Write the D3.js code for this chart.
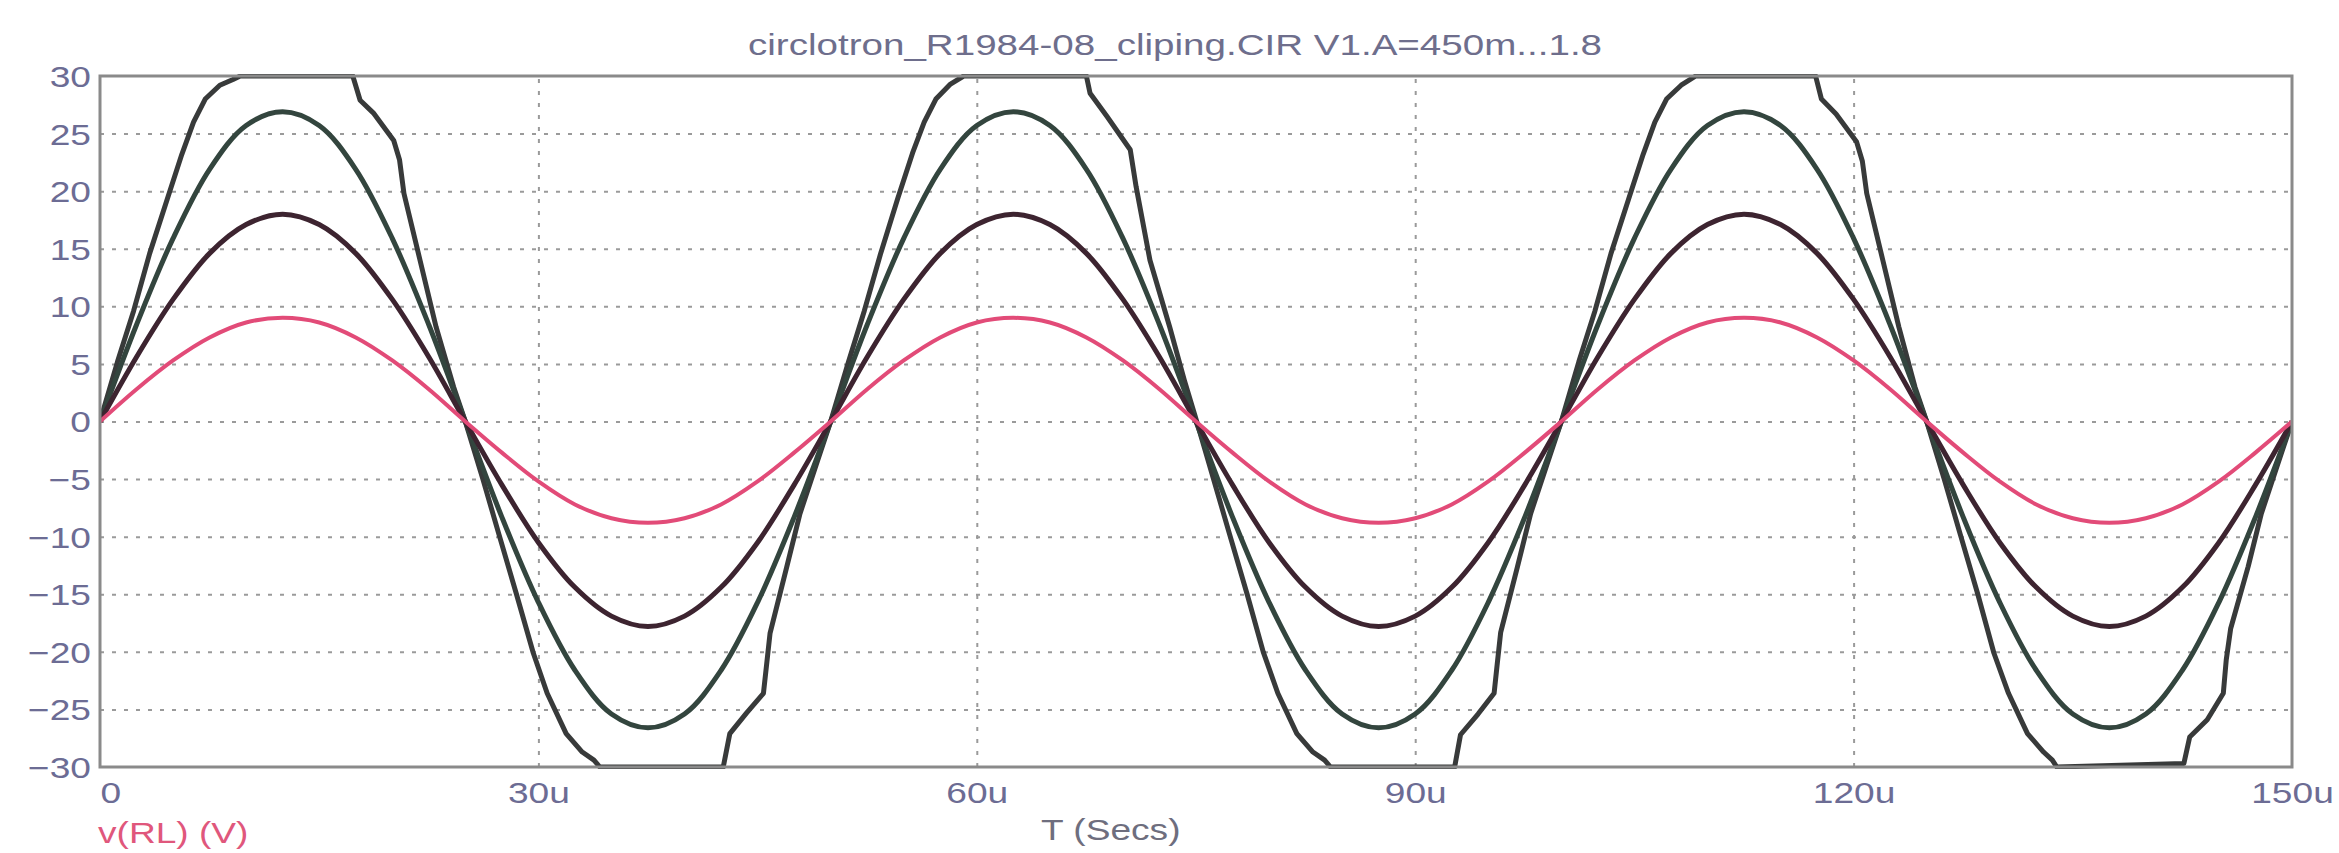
<!DOCTYPE html>
<html>
<head>
<meta charset="utf-8">
<script src="https://cdn.jsdelivr.net/npm/d3@7/dist/d3.min.js"></script>
<style>
  html, body { margin: 0; padding: 0; background: #ffffff; }
  svg { display: block; }
  text { font-family: "Liberation Sans", Arial, sans-serif; }
</style>
</head>
<body>
<svg id="chart" width="2339" height="853"></svg>
<script>
// ---------------- DATA ----------------
const titleText = "circlotron_R1984-08_cliping.CIR V1.A=450m...1.8";
const yAxisName = "v(RL) (V)";
const xAxisName = "T (Secs)";

const yTicks = [-30, -25, -20, -15, -10, -5, 0, 5, 10, 15, 20, 25, 30];
const xTicks = [0, 30, 60, 90, 120, 150];
const xTickLabels = ["0", "30u", "60u", "90u", "120u", "150u"];
const yGrid = [-25, -20, -15, -10, -5, 0, 5, 10, 15, 20, 25];
const xGrid = [30, 60, 90, 120];

// sample times (microseconds) for the three unclipped traces
const sampleT = [0,2.5,5,7.5,10,12.5,15,17.5,20,22.5,25,27.5,30,32.5,35,37.5,40,42.5,45,47.5,
  50,52.5,55,57.5,60,62.5,65,67.5,70,72.5,75,77.5,80,82.5,85,87.5,90,92.5,95,97.5,
  100,102.5,105,107.5,110,112.5,115,117.5,120,122.5,125,127.5,130,132.5,135,137.5,140,142.5,145,147.5,150];

// V1.A = 450m  (pink)
const vPink = [0,2.8,5.3,7.3,8.6,9.0,8.6,7.3,5.3,2.8,0,-2.7,-5.2,-7.2,-8.4,-8.8,-8.4,-7.2,-5.2,-2.7,
  0,2.8,5.3,7.3,8.6,9.0,8.6,7.3,5.3,2.8,0,-2.7,-5.2,-7.2,-8.4,-8.8,-8.4,-7.2,-5.2,-2.7,
  0,2.8,5.3,7.3,8.6,9.0,8.6,7.3,5.3,2.8,0,-2.7,-5.2,-7.2,-8.4,-8.8,-8.4,-7.2,-5.2,-2.7,0];

// V1.A = 900m  (maroon)
const vMaroon = [0,5.6,10.6,14.6,17.1,18.0,17.1,14.6,10.6,5.6,0,-5.5,-10.5,-14.4,-16.9,-17.8,-16.9,-14.4,-10.5,-5.5,
  0,5.6,10.6,14.6,17.1,18.0,17.1,14.6,10.6,5.6,0,-5.5,-10.5,-14.4,-16.9,-17.8,-16.9,-14.4,-10.5,-5.5,
  0,5.6,10.6,14.6,17.1,18.0,17.1,14.6,10.6,5.6,0,-5.5,-10.5,-14.4,-16.9,-17.8,-16.9,-14.4,-10.5,-5.5,0];

// V1.A = 1.35  (dark green-grey)
const vGreen = [0,8.4,15.9,21.9,25.7,26.9,25.7,21.9,15.9,8.4,0,-8.3,-15.7,-21.6,-25.4,-26.6,-25.4,-21.6,-15.7,-8.3,
  0,8.4,15.9,21.9,25.7,26.9,25.7,21.9,15.9,8.4,0,-8.3,-15.7,-21.6,-25.4,-26.6,-25.4,-21.6,-15.7,-8.3,
  0,8.4,15.9,21.9,25.7,26.9,25.7,21.9,15.9,8.4,0,-8.3,-15.7,-21.6,-25.4,-26.6,-25.4,-21.6,-15.7,-8.3,0];

// V1.A = 1.8  (clipped, dark grey) - irregular time points
const clipT = [0,1.2,2.3,3.4,4.6,5.6,6.4,7.2,8.2,9.1,9.6,17.3,17.8,18.7,20.1,20.5,20.8,21.9,23.0,24.2,
  25.0,26.2,27.3,28.5,29.65,30.6,31.9,33.0,33.8,34.2,42.65,43.1,44.25,45.4,45.6,45.85,47.0,47.9,49.0,
  50.0,51.2,52.3,53.4,54.6,55.6,56.4,57.2,58.2,59.1,67.5,67.75,68.9,70.5,70.9,71.85,73.2,74.2,
  75.05,76.2,77.3,78.5,79.6,80.6,81.9,83.0,83.8,84.2,92.7,93.1,94.3,95.4,95.6,95.85,97.0,97.9,99.0,
  100.0,101.2,102.3,103.4,104.6,105.6,106.4,107.2,108.2,109.2,117.4,117.8,118.8,120.2,120.6,120.9,122.0,123.1,124.2,
  125.0,126.2,127.3,128.5,129.6,130.6,131.9,133.0,133.6,133.9,142.6,143.0,144.2,145.3,145.5,145.8,147.0,147.9,149.0,150.0];
const clipV = [0,5.2,9.6,14.6,19.3,23.2,26.0,28.0,29.2,29.7,30,30,27.9,26.8,24.4,22.7,19.8,14.0,8.2,3.0,
  0,-5.0,-9.8,-15.0,-20.1,-23.6,-27.1,-28.7,-29.4,-30,-30,-27.1,-25.3,-23.6,-21.3,-18.4,-12.6,-8.0,-3.8,
  0,5.1,9.6,14.5,19.4,23.3,26.0,28.0,29.3,30,30,28.5,26.5,23.6,20.4,14.0,8.2,3.6,
  0,-5.0,-9.8,-15.0,-20.0,-23.6,-27.1,-28.7,-29.4,-30,-30,-27.2,-25.4,-23.6,-21.2,-18.3,-12.6,-8.0,-3.8,
  0,5.2,9.6,14.6,19.3,23.2,26.0,28.0,29.2,30,30,28.0,26.7,24.3,22.6,19.8,14.0,8.2,3.0,
  0,-5.0,-9.8,-15.0,-20.1,-23.6,-27.1,-28.7,-29.4,-30,-29.7,-27.4,-25.9,-23.6,-20.7,-18.0,-12.6,-8.0,-3.8,0];

// ---------------- LAYOUT ----------------
const L = 100, R = 2292, T = 76, B = 767;
const SX = 1.28;          // horizontal stretch of all lettering
const FS = 29;            // font size
const svg = d3.select("#chart");
svg.append("rect").attr("width", 2339).attr("height", 853).attr("fill", "#ffffff");

const x = d3.scaleLinear().domain([0, 150]).range([L, R]);
const y = d3.scaleLinear().domain([-30, 30]).range([B, T]);

// grid lines
const gridColor = "#9a9a9a";
const gx = svg.append("g").attr("transform", `translate(0,${B})`)
  .call(d3.axisBottom(x).tickValues(xGrid).tickSize(-(B - T)).tickFormat(""));
gx.select(".domain").remove();
gx.selectAll("line").attr("stroke", gridColor).attr("stroke-width", 2).attr("stroke-dasharray", "4,8");

const gy = svg.append("g").attr("transform", `translate(${L},0)`)
  .call(d3.axisLeft(y).tickValues(yGrid).tickSize(-(R - L)).tickFormat(""));
gy.select(".domain").remove();
gy.selectAll("line").attr("stroke", gridColor).attr("stroke-width", 2).attr("stroke-dasharray", "4,8");

// clip path
svg.append("clipPath").attr("id", "plotclip")
  .append("rect").attr("x", L).attr("y", T - 2).attr("width", R - L).attr("height", B - T + 4);

const plot = svg.append("g").attr("clip-path", "url(#plotclip)");

function series(ts, vs) { return ts.map((t, i) => [t, vs[i]]); }

const smoothLine = d3.line().x(d => x(d[0])).y(d => y(d[1])).curve(d3.curveCatmullRom.alpha(0.5));
const rawLine = d3.line().x(d => x(d[0])).y(d => y(d[1])).curve(d3.curveLinear);

plot.append("path").datum(series(clipT, clipV)).attr("d", rawLine)
  .attr("fill", "none").attr("stroke", "#383a3a").attr("stroke-width", 5)
  .attr("stroke-linejoin", "round");
plot.append("path").datum(series(sampleT, vGreen)).attr("d", smoothLine)
  .attr("fill", "none").attr("stroke", "#33453e").attr("stroke-width", 5);
plot.append("path").datum(series(sampleT, vMaroon)).attr("d", smoothLine)
  .attr("fill", "none").attr("stroke", "#3d2430").attr("stroke-width", 5);
plot.append("path").datum(series(sampleT, vPink)).attr("d", smoothLine)
  .attr("fill", "none").attr("stroke", "#e24b78").attr("stroke-width", 4);

// frame
svg.append("rect").attr("x", L).attr("y", T).attr("width", R - L).attr("height", B - T)
  .attr("fill", "none").attr("stroke", "#8a8a8a").attr("stroke-width", 3);

// y tick labels
const tickColor = "#6c6c94";
const ay = svg.append("g").attr("transform", `translate(${L},0)`)
  .call(d3.axisLeft(y).tickValues(yTicks).tickSize(0).tickFormat(d3.format("d")));
ay.select(".domain").remove();
ay.selectAll("text").attr("font-size", FS).attr("fill", tickColor)
  .attr("x", 0).attr("dy", "0.36em").attr("text-anchor", "end")
  .attr("transform", `translate(-9,0) scale(${SX},1)`);

// x tick labels
const ax = svg.append("g").attr("transform", `translate(0,${B})`)
  .call(d3.axisBottom(x).tickValues(xTicks).tickSize(0)
    .tickFormat((d, i) => xTickLabels[i]));
ax.select(".domain").remove();
ax.selectAll("text").attr("font-size", FS).attr("fill", tickColor)
  .attr("x", 0).attr("y", 0).attr("dy", 0)
  .attr("text-anchor", (d, i) => i === 0 ? "start" : "middle")
  .attr("transform", `translate(0,36) scale(${SX},1)`);

// helper for stretched free text
function label(px, py, txt, color, sx) {
  svg.append("text").attr("transform", `translate(${px},${py}) scale(${sx || SX},1)`)
    .attr("font-size", FS).attr("fill", color).text(txt);
}

// title
label(748, 55, titleText, "#6e6e8c", 1.33);
// axis names
label(98, 843, yAxisName, "#e0577c");
label(1041, 840, xAxisName, "#6e6e7e");
</script>
</body>
</html>
